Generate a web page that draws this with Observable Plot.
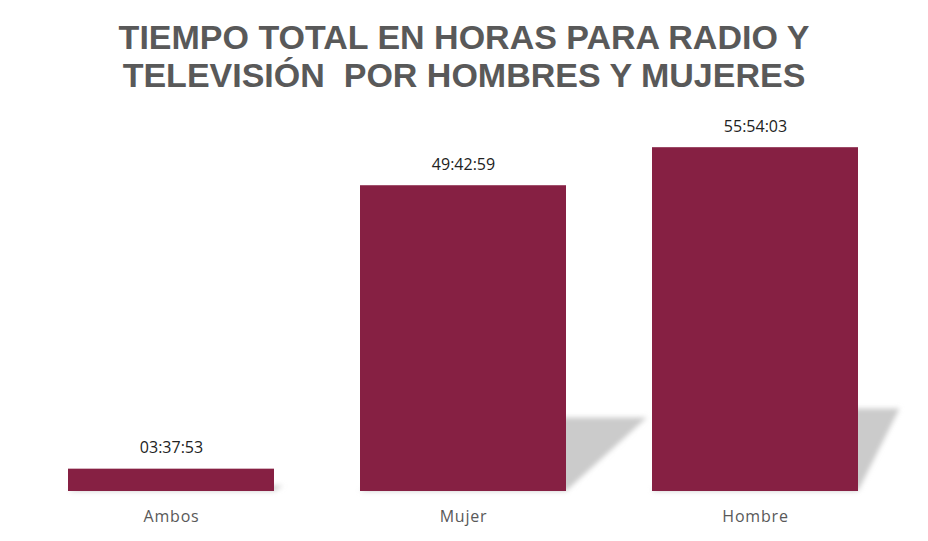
<!DOCTYPE html>
<html>
<head>
<meta charset="utf-8">
<script src="https://cdn.jsdelivr.net/npm/d3@7"></script>
<script src="https://cdn.jsdelivr.net/npm/@observablehq/plot@0.6"></script>
<style>
  html, body { margin: 0; padding: 0; background: #fff; }
  #wrap { width: 928px; height: 541px; position: relative; overflow: hidden; }
  #title {
    height: 110px; box-sizing: border-box; padding-top: 18px;
    text-align: center; font-family: "Liberation Sans", Arial, sans-serif;
    font-weight: bold; font-size: 34px; line-height: 38px; color: #595959;
  }
</style>
</head>
<body>
<div id="wrap">
  <div id="title">TIEMPO TOTAL EN HORAS PARA RADIO Y<br>TELEVISIÓN&nbsp; POR HOMBRES Y MUJERES</div>
  <div id="chart"></div>
</div>
<script>
const categories = ["Ambos", "Mujer", "Hombre"];
const durations = ["03:37:53", "49:42:59", "55:54:03"];

const toHours = s => { const [h, m, sec] = s.split(":").map(Number); return h + m / 60 + sec / 3600; };
const data = categories.map((c, i) => ({ cat: c, label: durations[i], hours: toHours(durations[i]) }));

const W = 928, H = 431;
const barColor = "#862043";
const fontFam = "'Open Sans', 'DejaVu Sans', sans-serif";

const plot = Plot.plot({
  width: W, height: H,
  marginTop: 20, marginBottom: 50, marginLeft: 19, marginRight: 21,
  x: { domain: categories, paddingInner: 0.295, paddingOuter: 0.163, label: null, axis: null },
  y: { domain: [0, d3.max(data, d => d.hours) * 1.05], axis: null },
  style: { fontFamily: fontFam, fontSize: "16px", color: "#595959", background: "#fff" },
  marks: [
    Plot.barY(data, { x: "cat", y: "hours", fill: barColor }),
    Plot.text(data, { x: "cat", y: "hours", text: "label", dy: -21, lineAnchor: "middle", fill: "#222", fontSize: 16, letterSpacing: "1.8px" }),
    Plot.axisX({ tickSize: 0, tickPadding: 19, fill: "#595959", fontSize: 16, label: null })
  ]
});

document.getElementById("chart").appendChild(plot);
d3.select(plot).selectAll('g[aria-label="x-axis tick label"] text').attr("letter-spacing", "0.8px");

// perspective drop shadows computed from the plot's own scales
const xs = plot.scale("x"), ys = plot.scale("y");
const svg = d3.select(plot);
const defs = svg.insert("defs", ":first-child");
defs.append("filter").attr("id", "blur").attr("x", "-20%").attr("y", "-20%").attr("width", "140%").attr("height", "140%")
  .append("feGaussianBlur").attr("stdDeviation", 2.5);
const vx = W * 1.19, vy = -108;
const shadowG = svg.insert("g", 'g[aria-label="bar"]').attr("filter", "url(#blur)");
data.forEach(d => {
  const x0 = xs.apply(d.cat), x1 = x0 + xs.bandwidth;
  const base = ys.apply(0), top = ys.apply(d.hours);
  const s = 0.24 * (base - top);
  const t = s / (base - vy);
  const pts = [[x0, base], [x1, base], [x1 + t * (vx - x1), base - s], [x0 + t * (vx - x0), base - s]];
  shadowG.append("polygon").attr("points", pts.map(p => p.join(",")).join(" ")).attr("fill", "#cbcbcb");
});
</script>
</body>
</html>
